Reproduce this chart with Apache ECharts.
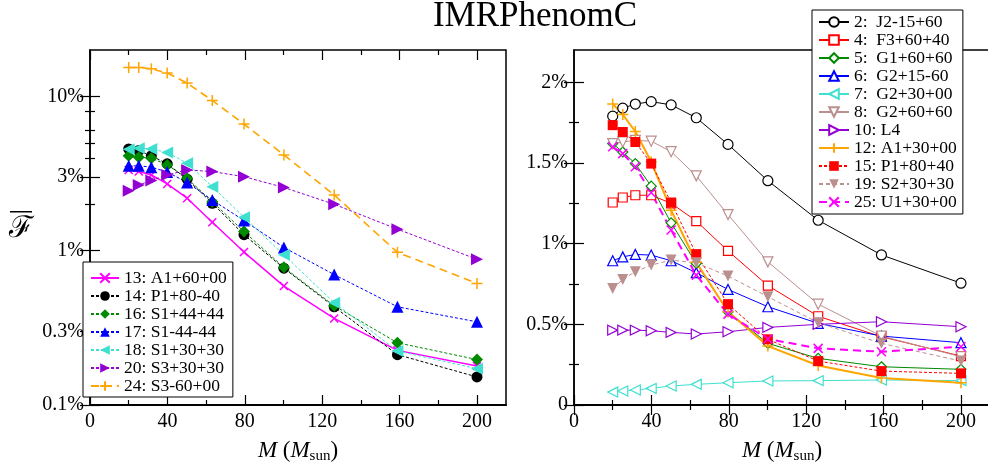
<!DOCTYPE html>
<html>
<head>
<meta charset="utf-8">
<script src="https://cdn.jsdelivr.net/npm/echarts@6/dist/echarts.min.js"></script>
<style>
html,body{margin:0;padding:0;background:#fff;}
#chart{width:988px;height:464px;}
</style>
</head>
<body>
<div id="chart"></div>
<script>
// ---------- data ----------
const masses = [20, 25.2, 31.7, 39.9, 50.2, 63.2, 79.6, 100.2, 126.2, 158.9, 200];

// left panel (percent)
const leftNames = ['13: A1+60+00', '14: P1+80-40', '16: S1+44+44', '17: S1-44-44', '18: S1+30+30', '20: S3+30+30', '24: S3-60+00'];
const s13 = [3.34, 3.26, 3.10, 2.71, 2.19, 1.53, 0.98, 0.59, 0.364, 0.226, 0.179];
const s14 = [4.57, 4.46, 4.12, 3.66, 2.91, 2.03, 1.27, 0.77, 0.433, 0.212, 0.152];
const s16 = [4.12, 4.04, 3.98, 3.60, 2.95, 2.08, 1.33, 0.78, 0.44, 0.253, 0.197];
const s17 = [3.55, 3.55, 3.48, 3.24, 2.77, 2.13, 1.57, 1.05, 0.70, 0.433, 0.346];
const s18 = [4.55, 4.62, 4.57, 4.33, 3.69, 2.60, 1.65, 0.94, 0.46, 0.224, 0.172];
const s20 = [2.45, 2.67, 2.85, 3.10, 3.34, 3.26, 3.02, 2.57, 2.00, 1.38, 0.88];
const s24 = [15.4, 15.4, 15.1, 14.2, 12.2, 9.42, 6.62, 4.18, 2.30, 0.976, 0.614];

// right panel (percent)
const rightNames = ['2:  J2-15+60', '4:  F3+60+40', '5:  G1+60+60', '6:  G2+15-60', '7:  G2+30+00', '8:  G2+60+60', '10: L4', '12: A1+30+00', '15: P1+80+40', '19: S2+30+30', '25: U1+30+00'];
const r2  = [1.79, 1.84, 1.865, 1.88, 1.86, 1.78, 1.615, 1.39, 1.145, 0.93, 0.755];
const r4  = [1.255, 1.286, 1.30, 1.30, 1.25, 1.14, 0.955, 0.74, 0.55, 0.423, 0.303];
const r5  = [1.62, 1.568, 1.496, 1.356, 1.129, 0.877, 0.578, 0.382, 0.289, 0.237, 0.221];
const r6  = [0.894, 0.918, 0.933, 0.929, 0.894, 0.82, 0.716, 0.609, 0.506, 0.427, 0.386];
const r7  = [0.08, 0.087, 0.093, 0.103, 0.118, 0.128, 0.138, 0.149, 0.151, 0.155, 0.151];
const r8  = [1.62, 1.63, 1.64, 1.635, 1.57, 1.42, 1.18, 0.887, 0.625, 0.427, 0.299];
const r10 = [0.464, 0.464, 0.464, 0.46, 0.45, 0.44, 0.454, 0.481, 0.50, 0.516, 0.485];
const r12 = [1.866, 1.80, 1.695, 1.507, 1.207, 0.885, 0.578, 0.365, 0.245, 0.167, 0.138];
const r15 = [1.734, 1.692, 1.63, 1.496, 1.255, 0.935, 0.625, 0.407, 0.272, 0.21, 0.196];
const r19 = [0.722, 0.778, 0.826, 0.867, 0.898, 0.881, 0.799, 0.671, 0.51, 0.382, 0.272];
const r25 = [1.60, 1.558, 1.476, 1.315, 1.084, 0.805, 0.563, 0.409, 0.351, 0.33, 0.361];

// ticks
const xMajorTicks = [0, 40, 80, 120, 160, 200];
const xMinorTicks = [20, 60, 100, 140, 180];
const leftYMajor = [0.1, 0.3, 1, 3, 10];
const leftYMinor = [0.2, 0.4, 0.5, 0.6, 0.8, 2, 4, 5, 6, 8];
const rightYMajor = [0, 0.5, 1, 1.5, 2];
const rightYMinor = [0.25, 0.75, 1.25, 1.75];

// ---------- styling ----------
const FONT = 'Liberation Serif';
const CROSS = 'path://M0,0L10,10M10,0L0,10';
const PLUS = 'path://M5,0L5,10M0,5L10,5';

function zipXY(vals) { return masses.map((m, i) => [m, vals[i]]); }

function mk(name, vals, grid, o) {
  const hollow = o.hollow;
  const isPath = o.symbol === CROSS || o.symbol === PLUS;
  return {
    name: name, type: 'line', data: zipXY(vals),
    xAxisIndex: grid * 4, yAxisIndex: grid * 4,
    symbol: o.symbol, symbolSize: o.size, symbolRotate: o.rot || 0,
    showSymbol: true, animation: false, clip: false,
    lineStyle: { color: o.color, width: o.lw || 1, type: o.dash || 'solid' },
    itemStyle: {
      color: (hollow || isPath) ? '#fff' : o.color,
      borderColor: o.color,
      borderWidth: (hollow || isPath) ? (o.bw || 1.2) : 0,
      opacity: 1
    },
    emphasis: { disabled: true },
    z: o.z || 2
  };
}

const C = {
  black: '#000000', red: '#ff0000', green: '#008a00', blue: '#0000ff',
  turq: '#40e0d0', brown: '#bc8f8f', violet: '#9400d3', orange: '#ffa500', magenta: '#ff00ff'
};
const SD = [3, 2];

const series = [
  mk(leftNames[0], s13, 0, { symbol: CROSS, size: 8, color: C.magenta, lw: 1.5, bw: 1.5 }),
  mk(leftNames[1], s14, 0, { symbol: 'circle', size: 11, color: C.black, dash: SD }),
  mk(leftNames[2], s16, 0, { symbol: 'diamond', size: 12, color: C.green, dash: SD }),
  mk(leftNames[3], s17, 0, { symbol: 'triangle', size: 12, color: C.blue, dash: SD }),
  mk(leftNames[4], s18, 0, { symbol: 'triangle', rot: 90, size: 12, color: C.turq, dash: SD }),
  mk(leftNames[5], s20, 0, { symbol: 'triangle', rot: -90, size: 12, color: C.violet, dash: SD }),
  mk(leftNames[6], s24, 0, { symbol: PLUS, size: 11, color: C.orange, lw: 1.6, bw: 1.5, dash: [8, 5] }),

  mk(rightNames[0], r2, 1, { symbol: 'circle', size: 10, color: C.black, hollow: true }),
  mk(rightNames[1], r4, 1, { symbol: 'rect', size: 9, color: C.red, hollow: true }),
  mk(rightNames[2], r5, 1, { symbol: 'diamond', size: 10, color: C.green, hollow: true }),
  mk(rightNames[3], r6, 1, { symbol: 'triangle', size: 10, color: C.blue, hollow: true }),
  mk(rightNames[4], r7, 1, { symbol: 'triangle', rot: 90, size: 10, color: C.turq, hollow: true }),
  mk(rightNames[5], r8, 1, { symbol: 'triangle', rot: 180, size: 10, color: C.brown, hollow: true }),
  mk(rightNames[6], r10, 1, { symbol: 'triangle', rot: -90, size: 10, color: C.violet, hollow: true }),
  mk(rightNames[7], r12, 1, { symbol: PLUS, size: 11, color: C.orange, lw: 2, bw: 1.5 }),
  mk(rightNames[8], r15, 1, { symbol: 'rect', size: 10, color: C.red, dash: SD }),
  mk(rightNames[9], r19, 1, { symbol: 'triangle', rot: 180, size: 11, color: C.brown, dash: [4, 3] }),
  mk(rightNames[10], r25, 1, { symbol: CROSS, size: 9, color: C.magenta, lw: 2, bw: 1.5, dash: [8, 5] })
];

// ---------- axes ----------
const tickLine = { color: '#000', width: 1.2 };
const nameRich = {
  i: { fontFamily: FONT, fontStyle: 'italic', fontSize: 23, color: '#000' },
  n: { fontFamily: FONT, fontSize: 23, color: '#000' },
  s: { fontFamily: FONT, fontSize: 15, color: '#000', padding: [12, 0, 0, 0] }
};

function xAxesFor(g) {
  const base = { type: 'value', gridIndex: g, min: 0, max: 215, splitLine: { show: false } };
  return [
    Object.assign({}, base, {
      position: 'bottom',
      axisLine: { show: true, lineStyle: { color: '#000', width: 2 } },
      axisTick: { show: true, inside: true, length: 10, customValues: xMajorTicks, lineStyle: tickLine },
      axisLabel: { show: true, customValues: xMajorTicks, fontFamily: FONT, fontSize: 20, color: '#000', margin: 7 },
      name: '{i|M}{n| (}{i|M}{s|sun}{n|)}', nameLocation: 'middle', nameGap: 32,
      nameTextStyle: { rich: nameRich }
    }),
    Object.assign({}, base, {
      position: 'bottom', axisLine: { show: false },
      axisTick: { show: true, inside: true, length: 5, customValues: xMinorTicks, lineStyle: tickLine },
      axisLabel: { show: false }
    }),
    Object.assign({}, base, {
      position: 'top', axisLine: { show: false },
      axisTick: { show: true, inside: true, length: 10, customValues: xMajorTicks, lineStyle: tickLine },
      axisLabel: { show: false }
    }),
    Object.assign({}, base, {
      position: 'top', axisLine: { show: false },
      axisTick: { show: true, inside: true, length: 5, customValues: xMinorTicks, lineStyle: tickLine },
      axisLabel: { show: false }
    })
  ];
}

function yAxesFor(g, base, major, minor, fmt) {
  base = Object.assign({ gridIndex: g, splitLine: { show: false } }, base);
  return [
    Object.assign({}, base, {
      position: 'left',
      axisLine: { show: true, lineStyle: { color: '#000', width: 1.5 } },
      axisTick: { show: true, inside: true, length: 10, customValues: major, lineStyle: tickLine },
      axisLabel: { show: true, customValues: major, formatter: fmt, fontFamily: FONT, fontSize: 20, color: '#000', margin: 6 }
    }),
    Object.assign({}, base, {
      position: 'left', axisLine: { show: false },
      axisTick: { show: true, inside: true, length: 5, customValues: minor, lineStyle: tickLine },
      axisLabel: { show: false }
    }),
    Object.assign({}, base, {
      position: 'right', axisLine: { show: false },
      axisTick: { show: true, inside: true, length: 10, customValues: major, lineStyle: tickLine },
      axisLabel: { show: false }
    }),
    Object.assign({}, base, {
      position: 'right', axisLine: { show: false },
      axisTick: { show: true, inside: true, length: 5, customValues: minor, lineStyle: tickLine },
      axisLabel: { show: false }
    })
  ];
}

const xAxis = xAxesFor(0).concat(xAxesFor(1));
const yAxis = yAxesFor(0, { type: 'log', logBase: 10, min: 0.1, max: 20 }, leftYMajor, leftYMinor, v => v + '%')
  .concat(yAxesFor(1, { type: 'value', min: 0, max: 2.2 }, rightYMajor, rightYMinor, v => (v === 0 ? '0' : v + '%')));

const legendText = { fontFamily: FONT, fontSize: 17.5, color: '#000', lineHeight: 17.6 };

const option = {
  animation: false,
  backgroundColor: '#fff',
  title: {
    text: 'IMRPhenomC', left: 535, top: -1, textAlign: 'center', padding: 0,
    textStyle: { fontFamily: FONT, fontSize: 35, fontWeight: 'normal', color: '#000' }
  },
  grid: [
    { left: 90, top: 50, width: 416, height: 355, show: true, borderColor: '#000', borderWidth: 1.5, backgroundColor: 'transparent', outerBoundsMode: 'none', containLabel: false },
    { left: 574, top: 50, width: 416, height: 355, show: true, borderColor: '#000', borderWidth: 1.5, backgroundColor: 'transparent', outerBoundsMode: 'none', containLabel: false }
  ],
  xAxis: xAxis,
  yAxis: yAxis,
  legend: [
    {
      orient: 'vertical', left: 83, top: 262, data: leftNames,
      itemWidth: 28, itemHeight: 12, itemGap: 0, padding: [7, 6, 2, 7],
      borderColor: '#000', borderWidth: 1, backgroundColor: '#fff',
      textStyle: legendText, selectedMode: false, z: 10
    },
    {
      orient: 'vertical', left: 812, top: 10, data: rightNames,
      itemWidth: 30, itemHeight: 12, itemGap: 0, padding: [3, 6, 3, 6],
      borderColor: '#000', borderWidth: 1, backgroundColor: '#fff',
      textStyle: legendText, selectedMode: false, z: 10
    }
  ],
  graphic: [
    {
      type: 'text', x: 21, y: 229,
      style: { text: 'ℱ', font: '30px "DejaVu Serif"', fill: '#000', align: 'center', verticalAlign: 'middle' }
    },
    {
      type: 'rect', shape: { x: 10, y: 211, width: 22, height: 1.5 },
      style: { fill: '#000' }
    }
  ],
  series: series
};

const chart = echarts.init(document.getElementById('chart'), null, { renderer: 'canvas' });
chart.setOption(option);
</script>
</body>
</html>
